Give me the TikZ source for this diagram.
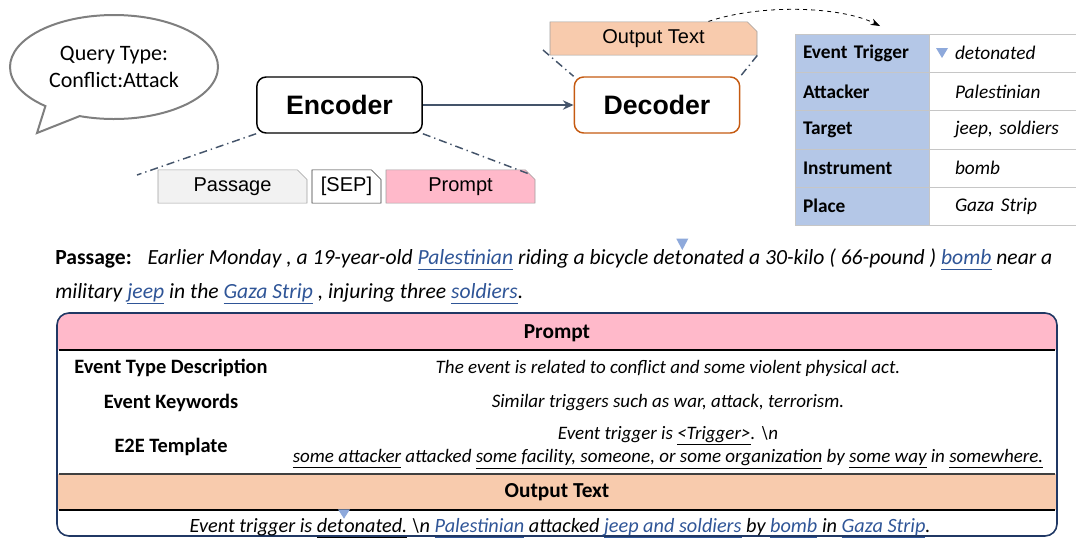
\documentclass[tikz,border=0pt]{standalone}
\usepackage{fontspec}
\setmainfont{Carlito}
\newfontfamily\arialfont{Liberation Sans}
\usetikzlibrary{shapes.misc,shapes.callouts,arrows.meta}
\definecolor{linkblue}{HTML}{2F5597}
\definecolor{promptpink}{HTML}{FFB9CA}
\definecolor{peach}{HTML}{F8CBAD}
\definecolor{keyblue}{HTML}{B4C7E7}
\definecolor{trigray}{HTML}{8EA9DB}
\definecolor{slate}{HTML}{44546A}
\definecolor{decorange}{HTML}{C55A11}
\definecolor{navy}{HTML}{203864}
\definecolor{bubblegray}{HTML}{7F7F7F}
\definecolor{passgray}{HTML}{F2F2F2}
\newcommand{\lnk}[1]{\textcolor{linkblue}{\underline{\vphantom{p}#1}}}
\newcommand{\undl}[1]{\underline{\vphantom{p}#1}}
\tikzset{
  coder/.style={draw, rounded corners=7pt, line width=1.1pt, minimum width=124pt,
    minimum height=42pt, font=\arialfont\bfseries\fontsize{20}{24}\selectfont},
  seqbox/.style={chamfered rectangle, chamfered rectangle corners=north east,
    chamfered rectangle xsep=4pt, draw=gray!75, minimum height=25pt, inner sep=0pt,
    font=\arialfont\fontsize{15}{18}\selectfont},
  dashdot/.style={slate, line width=1.1pt, dash pattern=on 6pt off 3pt on 1pt off 3pt},
  tabkey/.style={draw=gray!45, fill=keyblue, minimum height=28.7pt, text width=88.5pt,
    inner xsep=6pt, align=left, font=\bfseries\fontsize{14.5}{17}\selectfont},
  tabval/.style={draw=gray!45, fill=white, minimum height=28.7pt, text width=100pt,
    inner xsep=19.5pt, align=left, font=\itshape\fontsize{14.5}{17}\selectfont},
  psgtext/.style={inner sep=0pt, font=\fontsize{16.2}{19}\selectfont},
  headkey/.style={font=\bfseries\fontsize{16}{19}\selectfont},
  rowkey/.style={font=\bfseries\fontsize{15.3}{18}\selectfont},
  rowval/.style={font=\itshape\fontsize{14.25}{17}\selectfont},
  outval/.style={inner sep=0pt, font=\itshape\fontsize{15.2}{18}\selectfont},
}
\begin{document}
\begin{tikzpicture}[x=0.75pt, y=-0.75pt]
      \useasboundingbox (0,0) rectangle (1076,537);

      \node (query) [ellipse callout, draw=bubblegray, line width=1.5pt,
        callout absolute pointer={(37,133)}, callout pointer arc=22,
        minimum width=156pt, minimum height=78pt, align=center,
        font=\fontsize{16.5}{20}\selectfont] at (114,67) {Query Type:\\Conflict:Attack};

      \node [coder]                 (enc) at (339.5,105) {Encoder};
      \node [coder, draw=decorange] (dec) at (657,105)   {Decoder};
      \draw [-{Stealth[length=8pt,width=7pt]}, line width=2pt, slate] (enc) -- (dec);

      \node [seqbox, fill=passgray, minimum width=111.75pt]   (passage) at (232.5,186.5) {Passage};
      \node [seqbox, draw=black!80, minimum width=51.75pt]    (sep)     at (346.5,186.5) {[SEP]};
      \node [seqbox, fill=promptpink, minimum width=111.75pt] (prompt)  at (460.5,186.5) {Prompt};
      \node [seqbox, fill=peach, minimum width=155.25pt]      (outtxt)  at (653.5,38.5)  {Output Text};

      \coordinate (encL) at (137,175);
      \coordinate (outL) at (543,50);
      \coordinate (arcend) at (880,26);
      \draw [dashdot] (enc.south west) -- (encL);
      \draw [dashdot] (enc.south east) -- (prompt.north east);
      \draw [dashdot] (outL) -- (dec.north west);
      \draw [dashdot] (outtxt.south east) -- (dec.north east);
      \draw [-{Stealth[length=7pt,width=5pt]}, dashed, semithick]
        ([shift={(-44,-5)}]outtxt.north east) .. controls (760,4) and (840,6) .. (arcend);

      \node [tabkey] (trig) at (862,53.25)  {Event Trigger};
      \node [tabkey] (att)  at (862,91.5)   {Attacker};
      \node [tabkey] (tgt)  at (862,129.75) {Target};
      \node [tabkey] (ins)  at (862,168)    {Instrument};
      \node [tabkey] (plc)  at (862,206.25) {Place};
      \node [tabval] (trigv) at (1021.7,53.25)  {detonated};
      \node [tabval] (attv)  at (1021.7,91.5)   {Palestinian};
      \node [tabval] (tgtv)  at (1021.7,129.75) {jeep, soldiers};
      \node [tabval] (insv)  at (1021.7,168)    {bomb};
      \node [tabval] (plcv)  at (1021.7,206.25) {Gaza Strip};
      \fill [trigray] (936,48) -- (948,48) -- (942,58) -- cycle;

      \node [psgtext, anchor=base west] (psg1a) at (55,264)
        {\textbf{Passage:}\hspace{12pt}\textit{Earlier Monday , a 19-year-old \lnk{Palestinian} riding a bicycle det}};
      \node [psgtext, anchor=base west] (psg1b) at (psg1a.base east)
        {\textit{onated a 30-kilo ( 66-pound ) \lnk{bomb} near a}};
      \node [psgtext, anchor=base west] (psg2) at (55,298)
        {\textit{military \lnk{jeep} in the \lnk{Gaza Strip} , injuring three \lnk{soldiers}.}};
      \fill [trigray] ([shift={(-4.5pt,19pt)}]psg1a.base east) -- ++(9pt,0) -- ++(-4.5pt,-8.5pt) -- cycle;

      \begin{scope}
        \clip [rounded corners=9pt] (57,313) rectangle (1057,536);
        \fill [promptpink] (57,313) rectangle (1057,350);
        \fill [peach] (57,474) rectangle (1057,510);
      \end{scope}
      \draw [navy, line width=1.2pt, rounded corners=9pt] (57,313) rectangle (1057,536);
      \draw [line width=1.1pt] (59,350) -- (1055,350);
      \draw [line width=1.6pt, black!75] (59,474) -- (1055,474);
      \draw [line width=1.1pt] (59,510) -- (1055,510);

      \node [headkey] (prompthd) at (557,333) {Prompt};
      \node [rowkey] (etd)  at (171,368) {Event Type Description};
      \node [rowval] (etdv) at (668,368) {The event is related to conflict and some violent physical act.};
      \node [rowkey] (ekw)  at (171,403) {Event Keywords};
      \node [rowval] (ekwv) at (668,403) {Similar triggers such as war, attack, terrorism.};
      \node [rowkey] (e2e)  at (171,447) {E2E Template};
      \node [rowval] (e2ev1) at (668,436) {Event trigger is \undl{<Trigger>}. \textbackslash n};
      \node [rowval] (e2ev2) at (668,459)
        {\undl{some attacker} attacked \undl{some facility, someone, or some organization} by \undl{some way} in \undl{somewhere.}};
      \node [headkey] (outhd) at (557,492) {Output Text};
      \node [outval, anchor=base east] (outv1) at (344,532) {Event trigger is \undl{det}};
      \node [outval, anchor=base west] (outv2) at (outv1.base east)
        {\undl{onated.} \textbackslash n \lnk{Palestinian} attacked \lnk{jeep and soldiers} by \lnk{bomb} in \lnk{Gaza Strip}.};
      \fill [trigray] ([shift={(-4.5pt,17pt)}]outv1.base east) -- ++(9pt,0) -- ++(-4.5pt,-7pt) -- cycle;
\end{tikzpicture}
\end{document}
